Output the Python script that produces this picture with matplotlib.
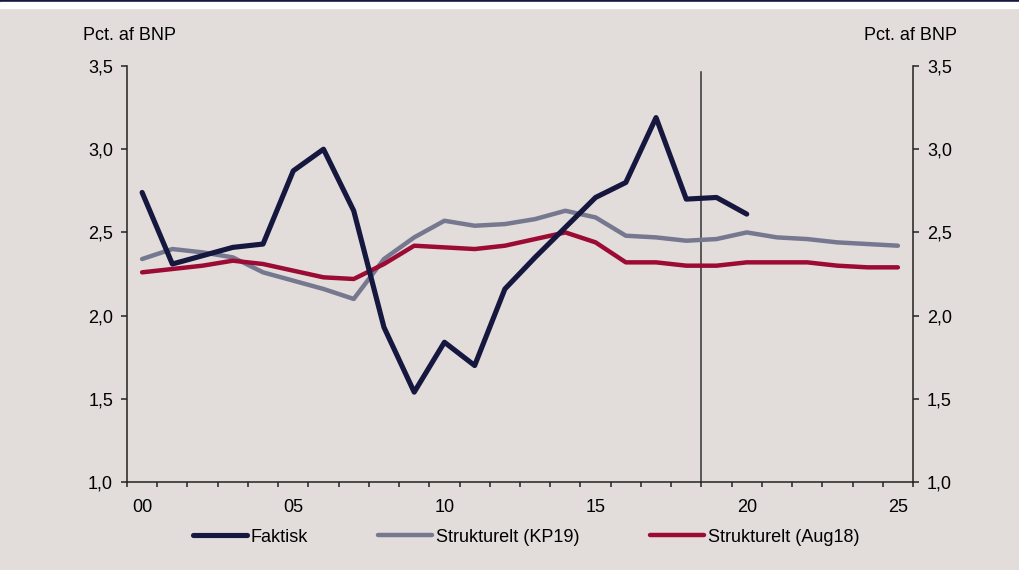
import numpy as np
import matplotlib
matplotlib.use("Agg")
from matplotlib import pyplot as plt
from matplotlib.ticker import FixedLocator, FuncFormatter

plt.rcParams['font.family'] = ['Liberation Sans', 'DejaVu Sans']

# Years 2000-2025 as index 0..25
years = np.arange(0, 26)
year_labels = ['00', '05', '10', '15', '20', '25']
year_label_pos = [0, 5, 10, 15, 20, 25]

faktisk = [2.74, 2.31, 2.36, 2.41, 2.43, 2.87, 3.00, 2.63, 1.93, 1.54,
           1.84, 1.70, 2.16, 2.35, 2.53, 2.71, 2.80, 3.19, 2.70, 2.71,
           2.61]
kp19 = [2.34, 2.40, 2.38, 2.35, 2.26, 2.21, 2.16, 2.10, 2.34, 2.47,
        2.57, 2.54, 2.55, 2.58, 2.63, 2.59, 2.48, 2.47, 2.45, 2.46,
        2.50, 2.47, 2.46, 2.44, 2.43, 2.42]
aug18 = [2.26, 2.28, 2.30, 2.33, 2.31, 2.27, 2.23, 2.22, 2.31, 2.42,
         2.41, 2.40, 2.42, 2.46, 2.50, 2.44, 2.32, 2.32, 2.30, 2.30,
         2.32, 2.32, 2.32, 2.30, 2.29, 2.29]

bg = '#e2dcda'
navy = '#15173f'
grey = '#767890'
red = '#9b0b33'
fs = 13

fig = plt.figure(figsize=(10.2, 5.7), dpi=100, facecolor=bg)
ax = fig.add_axes([127 / 1020, 1 - 482 / 570, 786 / 1020, 416 / 570])
ax.set_facecolor(bg)

# banner at the top
fig.patches.append(plt.Rectangle((0, 1 - 2.5 / 570), 1, 2.5 / 570,
                                 transform=fig.transFigure, color=navy, zorder=0))
fig.patches.append(plt.Rectangle((0, 1 - 8 / 570), 1, 5.5 / 570,
                                 transform=fig.transFigure, color='white', zorder=0))

ax.plot(years[:len(faktisk)], faktisk, color=navy, lw=3.7, label='Faktisk',
        solid_capstyle='round', zorder=4)
ax.plot(years, kp19, color=grey, lw=3.2, label='Strukturelt (KP19)',
        solid_capstyle='round', zorder=2)
ax.plot(years, aug18, color=red, lw=3.2, label='Strukturelt (Aug18)',
        solid_capstyle='round', zorder=3)

ax.axvline(18.5, ymax=(3.464 - 1.0) / 2.5, color='#333333', lw=1.1, zorder=1)

ax.set_xlim(-0.5, 25.5)
ax.set_ylim(1.0, 3.5)

ax.spines['top'].set_visible(False)
for side in ['left', 'right', 'bottom']:
    ax.spines[side].set_color('#222222')
    ax.spines[side].set_linewidth(1.1)

ax.set_yticks(np.arange(1.0, 3.51, 0.5))
ax.yaxis.set_major_formatter(FuncFormatter(lambda v, p: f'{v:.1f}'.replace('.', ',')))
ax.tick_params(axis='y', which='major', direction='out', length=4.5, width=1.1,
               color='#222222', labelsize=fs, pad=5.5, left=True, right=True,
               labelleft=True, labelright=True)

# ticks between years, labels at every fifth year
ax.xaxis.set_major_locator(FixedLocator(np.arange(-0.5, 26, 1)))
ax.xaxis.set_major_formatter(FuncFormatter(lambda v, p: ''))
ax.xaxis.set_minor_locator(FixedLocator(year_label_pos))
ax.set_xticklabels(year_labels, minor=True)
ax.tick_params(axis='x', which='major', direction='out', length=3.8, width=1.1,
               color='#222222')
ax.tick_params(axis='x', which='minor', length=0, labelsize=fs, pad=12)

fig.text(83 / 1020, 1 - 35 / 570, 'Pct. af BNP', fontsize=fs, ha='left', va='center')
fig.text(957 / 1020, 1 - 35 / 570, 'Pct. af BNP', fontsize=fs, ha='right', va='center')

fig.legend(loc='center', bbox_to_anchor=(526 / 1020, 1 - 537 / 570), ncol=3,
           frameon=False, fontsize=fs, handlelength=3.0, handletextpad=0.2,
           columnspacing=3.9)

fig.savefig('out.png', dpi=100, facecolor=bg)
